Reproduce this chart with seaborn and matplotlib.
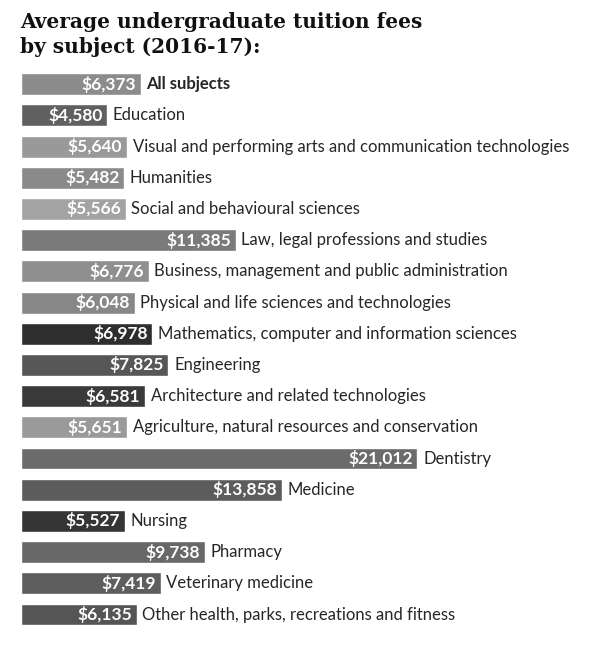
import pandas as pd
import matplotlib
matplotlib.use("Agg")
import matplotlib.pyplot as plt
import seaborn as sns

subjects = [
    "All subjects",
    "Education",
    "Visual and performing arts and communication technologies",
    "Humanities",
    "Social and behavioural sciences",
    "Law, legal professions and studies",
    "Business, management and public administration",
    "Physical and life sciences and technologies",
    "Mathematics, computer and information sciences",
    "Engineering",
    "Architecture and related technologies",
    "Agriculture, natural resources and conservation",
    "Dentistry",
    "Medicine",
    "Nursing",
    "Pharmacy",
    "Veterinary medicine",
    "Other health, parks, recreations and fitness",
]
fees = [6373, 4580, 5640, 5482, 5566, 11385, 6776, 6048, 6978,
        7825, 6581, 5651, 21012, 13858, 5527, 9738, 7419, 6135]
shades = ["#8c8c8c", "#606060", "#999999", "#8a8a8a", "#a3a3a3", "#7a7a7a",
          "#8f8f8f", "#888888", "#2e2e2e", "#575757", "#3a3a3a", "#9a9a9a",
          "#6b6b6b", "#5c5c5c", "#353535", "#686868", "#5e5e5e", "#555555"]

df = pd.DataFrame({"subject": subjects, "fee": fees})

sns.set_style("white")
plt.rcParams["font.family"] = ["Lato", "DejaVu Sans"]

fig = plt.figure(figsize=(6.0, 6.47), dpi=100)
# bars start ~20px from the left, rows ~31px apart
ax = fig.add_axes([0.0345, 0.026, 0.9655, 0.868])

sns.barplot(data=df, x="fee", y="subject", hue="subject",
            palette=dict(zip(subjects, shades)), legend=False,
            orient="h", width=0.70, saturation=1, ax=ax)

ax.set_xlim(0, 30680)
ax.set_ylim(len(subjects) - 0.5, -0.5)
ax.set_axis_off()

for i, (name, val) in enumerate(zip(subjects, fees)):
    ax.annotate(f"${val:,}", (val, i), xytext=(-3.5, 0), textcoords="offset points",
                ha="right", va="center", color="white", fontsize=12.5,
                fontweight="bold")
    ax.annotate(name, (val, i), xytext=(4, 0), textcoords="offset points",
                ha="left", va="center", color="#262626", fontsize=12,
                fontweight="bold" if i == 0 else "normal")

fig.text(0.034, 1 - 28 / 647, "Average undergraduate tuition fees",
         ha="left", va="baseline", fontsize=14.5, fontweight="bold",
         family="DejaVu Serif", color="#111111")
fig.text(0.034, 1 - 53 / 647, "by subject (2016-17):",
         ha="left", va="baseline", fontsize=14.5, fontweight="bold",
         family="DejaVu Serif", color="#111111")

fig.savefig("out.png", dpi=100, facecolor="white")
